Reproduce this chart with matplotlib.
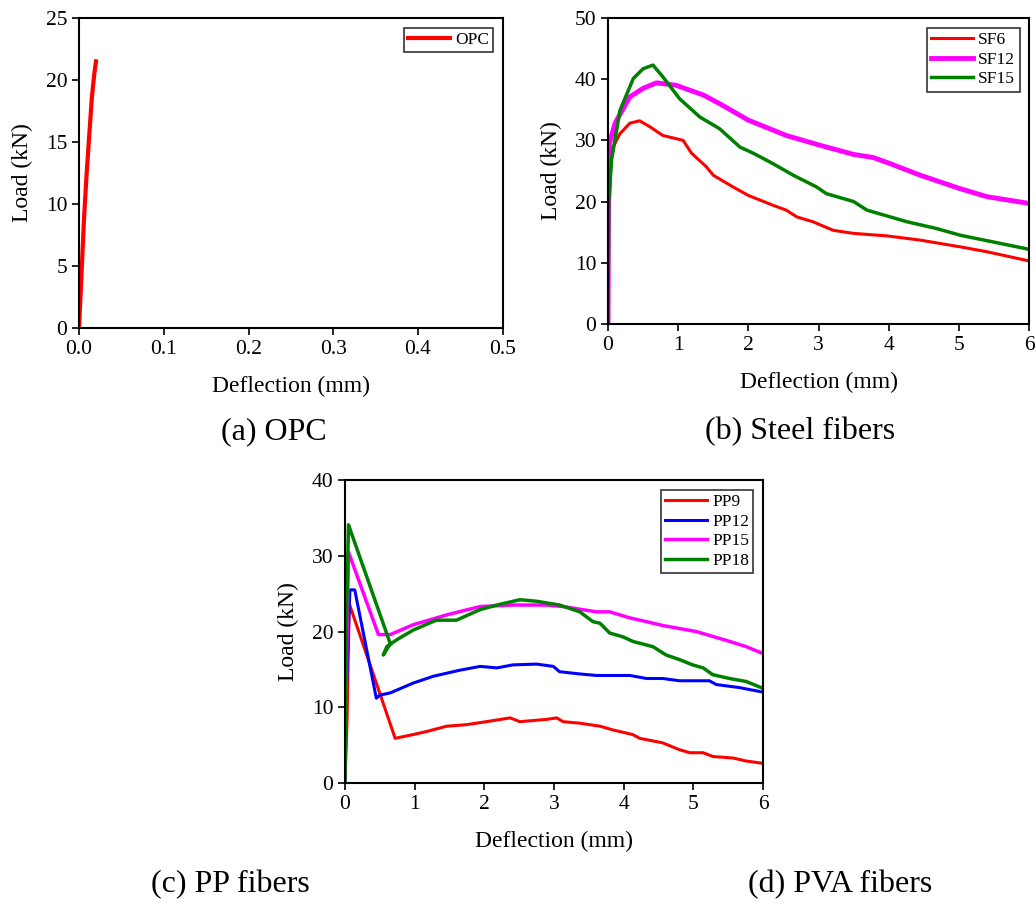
import numpy as np
import matplotlib
matplotlib.use("Agg")
import matplotlib.pyplot as plt

plt.rcParams['font.family'] = ['Liberation Serif', 'DejaVu Serif']
plt.rcParams['mathtext.fontset'] = 'stix'

# (a) OPC
opc_x = [0.0, 0.002, 0.004, 0.006, 0.009, 0.012, 0.015, 0.018, 0.020]
opc_y = [0.0, 3.0, 6.0, 9.0, 12.5, 15.5, 18.5, 20.5, 21.5]

# (b) Steel fibers
sf6_x = [0, 0.01, 0.05, 0.17, 0.31, 0.45, 0.6, 0.78, 1.07, 1.19, 1.40, 1.5, 1.78, 2.0, 2.35,
         2.54, 2.69, 2.92, 3.21, 3.5, 3.97, 4.45, 5.02, 5.4, 6.0]
sf6_y = [0, 17.5, 28.4, 31.1, 32.8, 33.2, 32.2, 30.8, 30.0, 27.9, 25.7, 24.3, 22.4, 21.0, 19.4,
         18.6, 17.5, 16.7, 15.3, 14.8, 14.4, 13.7, 12.6, 11.8, 10.3]
sf12_x = [0, 0.005, 0.02, 0.1, 0.31, 0.5, 0.69, 0.97, 1.36, 1.59, 2.0, 2.54, 3.02, 3.5, 3.78,
          4.02, 4.45, 5.02, 5.4, 6.0]
sf12_y = [0, 15.0, 29.5, 32.8, 37.1, 38.5, 39.4, 39.0, 37.4, 36.0, 33.3, 30.8, 29.2, 27.7, 27.2,
          26.2, 24.3, 22.1, 20.8, 19.7]
sf15_x = [0, 0.01, 0.05, 0.17, 0.36, 0.5, 0.64, 0.78, 1.02, 1.31, 1.59, 1.88, 2.07, 2.35, 2.64,
          2.97, 3.11, 3.5, 3.69, 4.02, 4.26, 4.68, 5.02, 5.49, 6.0]
sf15_y = [0, 20.0, 26.8, 34.9, 40.1, 41.7, 42.3, 40.4, 36.8, 33.8, 31.9, 28.9, 27.9, 26.2, 24.3,
          22.4, 21.3, 20.0, 18.6, 17.5, 16.7, 15.6, 14.5, 13.4, 12.2]

# (c) PP fibers
pp9_x = [0, 0.03, 0.06, 0.72, 0.98, 1.17, 1.46, 1.74, 2.03, 2.37, 2.51, 2.89, 3.04, 3.13, 3.37,
         3.66, 3.85, 4.13, 4.23, 4.56, 4.8, 4.95, 5.14, 5.28, 5.57, 5.76, 6.0]
pp9_y = [0, 8.4, 23.7, 5.9, 6.4, 6.8, 7.5, 7.7, 8.1, 8.6, 8.1, 8.4, 8.6, 8.1, 7.9,
         7.5, 7.0, 6.4, 5.9, 5.3, 4.4, 4.0, 4.0, 3.5, 3.3, 2.9, 2.6]
pp12_x = [0, 0.02, 0.07, 0.14, 0.45, 0.5, 0.65, 0.98, 1.27, 1.65, 1.94, 2.18, 2.41, 2.75, 2.99,
          3.08, 3.37, 3.61, 4.09, 4.33, 4.56, 4.8, 5.23, 5.33, 5.66, 6.0]
pp12_y = [0, 11.9, 25.5, 25.5, 11.2, 11.6, 11.9, 13.2, 14.1, 14.9, 15.4, 15.2, 15.6, 15.7, 15.4,
          14.7, 14.4, 14.2, 14.2, 13.8, 13.8, 13.5, 13.5, 13.0, 12.6, 12.0]
pp15_x = [0, 0.01, 0.05, 0.48, 0.65, 0.98, 1.46, 1.94, 2.41, 2.89, 3.13, 3.61, 3.8, 4.09, 4.33,
          4.56, 5.04, 5.52, 5.76, 6.0]
pp15_y = [0, 8.4, 30.5, 19.6, 19.6, 20.9, 22.2, 23.3, 23.5, 23.5, 23.3, 22.6, 22.6, 21.8, 21.3,
          20.8, 20.0, 18.7, 18.0, 17.1]
pp18_x = [0, 0.02, 0.05, 0.65, 0.55, 0.6, 0.74, 0.98, 1.31, 1.6, 1.94, 2.18, 2.51, 2.75, 3.08,
          3.37, 3.56, 3.66, 3.8, 3.99, 4.13, 4.42, 4.61, 4.8, 4.99, 5.14, 5.28, 5.52, 5.76, 6.0]
pp18_y = [0, 20.7, 34.1, 18.4, 16.9, 18.0, 18.9, 20.2, 21.5, 21.5, 22.9, 23.5, 24.2, 24.0, 23.5,
          22.6, 21.3, 21.1, 19.8, 19.3, 18.7, 18.0, 16.9, 16.3, 15.6, 15.2, 14.3, 13.8, 13.4, 12.5]

captions = ['(a) OPC', '(b) Steel fibers', '(c) PP fibers', '(d) PVA fibers']

fig = plt.figure(figsize=(10.36, 9.07), dpi=100)
ax_a = fig.add_axes([0.0763, 0.6384, 0.409, 0.3418])
ax_b = fig.add_axes([0.5869, 0.6428, 0.4064, 0.3374])
ax_c = fig.add_axes([0.333, 0.1367, 0.4035, 0.334])


def style(ax, xlim, ylim, xticks, yticks, xfmt):
    ax.set_xlim(xlim)
    ax.set_ylim(ylim)
    ax.set_xticks(xticks)
    ax.set_xticklabels([xfmt.format(t) for t in xticks])
    ax.set_yticks(yticks)
    ax.tick_params(direction='out', length=5, width=1.2, labelsize=15.5)
    for s in ax.spines.values():
        s.set_linewidth(1.5)
    ax.set_xlabel('Deflection (mm)', fontsize=17, labelpad=12)
    ax.set_ylabel('Load (kN)', fontsize=17, labelpad=9)
    ax.legend(loc='upper right', fontsize=12.5, frameon=True, fancybox=False,
              edgecolor='black', handlelength=2.4, handletextpad=0.3,
              borderpad=0.25, labelspacing=0.2, borderaxespad=0.55)
    ax.get_legend().get_frame().set_linewidth(1.2)


ax_a.plot(opc_x, opc_y, color='red', lw=3, label='OPC')
style(ax_a, (0, 0.5), (0, 25), np.arange(0, 0.51, 0.1), np.arange(0, 26, 5), '{:.1f}')

ax_b.plot(sf6_x, sf6_y, color='red', lw=2.2, label='SF6')
ax_b.plot(sf12_x, sf12_y, color='magenta', lw=3.5, label='SF12')
ax_b.plot(sf15_x, sf15_y, color='green', lw=2.5, label='SF15')
style(ax_b, (0, 6), (0, 50), np.arange(0, 7), np.arange(0, 51, 10), '{:.0f}')

ax_c.plot(pp9_x, pp9_y, color='red', lw=2.2, label='PP9')
ax_c.plot(pp12_x, pp12_y, color='blue', lw=2.2, label='PP12')
ax_c.plot(pp15_x, pp15_y, color='magenta', lw=2.5, label='PP15')
ax_c.plot(pp18_x, pp18_y, color='green', lw=2.5, label='PP18')
style(ax_c, (0, 6), (0, 40), np.arange(0, 7), np.arange(0, 41, 10), '{:.0f}')

fig.text(274 / 1036, 1 - 432 / 907, captions[0], fontsize=23, ha='center', va='center')
fig.text(800 / 1036, 1 - 432 / 907, captions[1], fontsize=23, ha='center', va='center')
fig.text(230 / 1036, 1 - 885 / 907, captions[2], fontsize=23, ha='center', va='center')
fig.text(840 / 1036, 1 - 885 / 907, captions[3], fontsize=23, ha='center', va='center')

fig.savefig('out.png', dpi=100)
